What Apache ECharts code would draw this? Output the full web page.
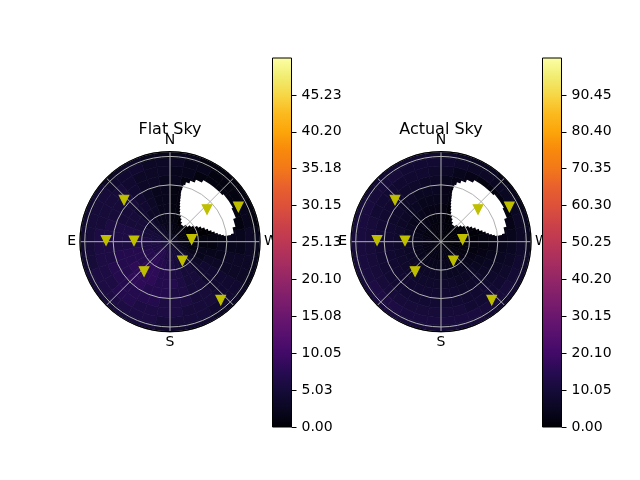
<!DOCTYPE html>
<html><head><meta charset="utf-8">
<script src="https://cdn.jsdelivr.net/npm/echarts@6/dist/echarts.min.js"></script>
<style>html,body{margin:0;padding:0;background:#fff}#c{width:640px;height:480px}</style>
</head><body><div id="c"></div>
<script>
// azimuth bins (start, degrees from N through E), step 10
const azBins = [0,10,20,30,40,50,60,70,80,90,100,110,120,130,140,150,160,170,180,190,200,210,220,230,240,250,260,270,280,290,300,310,320,330,340,350];
const azStep = 10;
// zenith ring edges
const rEdges = [0,10,20,30,40,50,60,70,80,88,95];
// Flat Sky values per ring (inner to outer)
const flatSkyRings = [
 [3,3,3,3,4,4,4,4,5,5, 5,5,5,5,5,5,5,5,5,4, 4,4,4,3,3,3,2,2,2,2, 2,2,2,2,2,3],
 [2,2,3,3,4,4,5,5,5,6, 6,6,6,7,7,7,6,6,6,5, 5,4,4,3,2,2,1,1,1,1, 1,1,1,1,1,2],
 [2,2,2,3,4,4,5,5,6,6, 6,7,7,7,8,7,7,6,6,5, 5,4,4,3,2,1,1,0,0,0, 0,0,0,0,1,1],
 [2,2,3,3,4,5,5,6,6,6, 7,7,7,8,8,8,7,7,6,6, 5,5,4,3,2,2,1,1,0,0, 0,0,0,0,1,1],
 [2,2,3,4,4,5,5,6,6,6, 7,7,8,8,8,8,7,7,7,6, 5,5,4,4,3,2,1,1,0,0, 0,0,0,0,1,1],
 [2,2,3,4,5,5,5,6,6,6, 7,7,7,8,8,7,7,7,6,6, 5,5,4,4,3,2,2,1,0,0, 0,0,0,0,1,1],
 [2,3,3,4,5,5,5,6,6,6, 6,7,7,7,7,7,7,6,6,6, 5,5,4,4,3,3,2,2,1,0, 0,0,0,0,1,2],
 [3,3,3,4,5,5,5,5,6,6, 6,6,6,7,7,6,6,6,6,5, 5,5,4,4,3,3,2,2,1,1, 1,1,1,1,2,2],
 [3,3,4,4,4,5,5,5,5,5, 5,6,6,6,6,6,6,5,5,5, 5,4,4,4,3,3,3,3,2,2, 1,1,1,2,2,3],
 [2,2,3,3,3,4,4,4,4,4, 4,5,5,5,5,5,5,4,4,4, 4,3,3,3,2,2,2,2,1,1, 1,1,1,1,2,2]
];
// Actual Sky values per ring (inner to outer)
const actualSkyRings = [
 [1,1,1,1,1,1,2,2,2,2, 2,2,2,2,2,2,2,2,2,2, 2,1,1,1,1,1,1,1,1,1, 1,1,1,1,1,1],
 [2,2,2,2,2,2,2,3,3,3, 3,3,3,3,3,3,3,3,3,3, 3,2,2,2,2,1,1,1,1,1, 1,1,1,1,1,2],
 [2,2,2,3,3,3,3,4,4,4, 4,4,4,4,4,4,4,4,4,4, 4,3,3,3,2,2,1,1,1,1, 1,1,1,1,1,2],
 [3,3,3,4,4,4,5,5,5,6, 6,6,6,6,6,6,6,6,6,5, 5,5,4,4,3,2,2,1,1,1, 1,1,1,1,1,2],
 [4,4,4,5,5,6,6,7,7,7, 7,7,7,7,7,7,7,7,7,7, 6,6,6,5,4,3,2,2,1,1, 1,1,1,1,2,3],
 [5,5,5,6,6,7,7,8,8,8, 8,8,8,8,8,8,8,8,8,8, 7,7,7,6,5,4,3,2,1,1, 1,1,1,1,2,3],
 [6,6,7,7,8,8,8,9,9,9, 9,9,9,9,9,9,9,9,9,9, 8,8,8,7,6,5,4,3,2,1, 1,1,1,2,3,4],
 [7,8,8,8,9,9,9,10,10,10, 10,10,10,10,10,10,10,10,10,10, 9,9,9,8,7,6,5,4,3,2, 2,2,2,3,4,6],
 [9,9,9,10,10,10,11,11,11,11, 11,11,12,12,12,11,11,11,11,11, 11,10,10,10,9,8,7,6,6,5, 5,5,6,6,7,8],
 [8,8,8,9,9,9,10,10,10,10, 10,10,11,11,11,10,10,10,10,10, 10,9,9,9,8,7,6,5,5,4, 4,4,5,5,6,7]
];
// region with no data (NaN), per zenith band: zenith from/to, azimuth from/to
const nanZenithFrom = [22.5,25,28,31,34,37,40,43,46,49,52,55,58,61,64,67,70,73];
const nanZenithTo   = [25,28,31,34,37,40,43,46,49,52,55,58,61,64,67,70,73,74.5];
const nanAzFrom = [320,312,306.5,302,298,294,290,286.5,284,281.5,279.5,278.2,277,277,278,283.5,290.5,299];
const nanAzTo   = [326,331,335,339,341,342.5,343.8,344.8,345.3,345.8,346.4,346.1,345.8,344.2,340.9,336.6,331,311];
// star markers (zenith, azimuth)
const starZenith = [65.5, 67.5, 38, 23, 24, 41.7, 81.6, 81, 51.8];
const starAzimuth = [47.8, 88.8, 88.5, 276, 213, 139, 221, 297, 311];
// colorbars
const flatMax = 50.25;
const actualMax = 100.5;
const flatTicks = [0, 5.03, 10.05, 15.08, 20.10, 25.13, 30.15, 35.18, 40.20, 45.23];
const actualTicks = [0, 10.05, 20.10, 30.15, 40.20, 50.25, 60.30, 70.35, 80.40, 90.45];
const dirValues = [0, 90, 180, 270];
const dirLabels = ['N', 'E', 'S', 'W'];
const titles = ['Flat Sky', 'Actual Sky'];

const inferno = ['#000004','#0a0722','#160b39','#280b53','#420a68','#57106e','#6a176e','#7f1e6c','#932667','#a82e5f','#bc3754','#cc4248','#dd513a','#e8602d','#f37819','#f8890c','#fca50a','#fbba1f','#f6d746','#f1ed71','#fcffa4'];

function cells(rings) {
  const out = [];
  rings.forEach((ring, i) => ring.forEach((v, j) => {
    out.push([rEdges[i], rEdges[i+1], azBins[j], azBins[j] + azStep, v]);
  }));
  return out;
}
const nanCells = nanZenithFrom.map((z, i) => [z, nanZenithTo[i], nanAzFrom[i], nanAzTo[i], 0]);

function sectorFor(params, api) {
  const cs = params.coordSys; const cx = cs.cx, cy = cs.cy;
  const r0v = api.value(0), r1v = api.value(1), a0v = api.value(2), a1v = api.value(3);
  const pa0 = api.coord([r1v, a0v]);
  const pa1 = api.coord([r1v, a1v]);
  const pin = api.coord([r0v, a0v]);
  const R = Math.hypot(pa0[0]-cx, pa0[1]-cy);
  const R0 = Math.hypot(pin[0]-cx, pin[1]-cy);
  let s = Math.atan2(pa1[1]-cy, pa1[0]-cx);
  let e = Math.atan2(pa0[1]-cy, pa0[0]-cx);
  while (e <= s) e += 2*Math.PI;
  return {cx:cx, cy:cy, r0:R0, r:R, startAngle:s, endAngle:e, clockwise:true};
}
function renderCell(params, api) {
  const col = api.visual('color');
  return {type:'sector', shape: sectorFor(params, api), style:{fill:col, stroke:col, lineWidth:0.7}};
}
function renderNan(params, api) {
  return {type:'sector', shape: sectorFor(params, api), style:{fill:'#ffffff', stroke:'#ffffff', lineWidth:1.6}};
}

const centers = [[170, 241.7], [441, 241.7]];
const cbLefts = [272.5, 542.5];
const maxes = [flatMax, actualMax];
const tickSets = [flatTicks, actualTicks];

const option = {
  animation: false,
  backgroundColor: '#fff',
  textStyle: {fontFamily: 'DejaVu Sans'},
  polar: centers.map(c => ({center: c, radius: 90})),
  angleAxis: [0,1].map(i => ({
    polarIndex: i, type: 'value', min: 0, max: 360, interval: 45, startAngle: 90, clockwise: false, z: 4,
    axisLine: {show: true, lineStyle: {color: '#000', width: 1.2}},
    axisTick: {show: false},
    axisLabel: {margin: 4, fontSize: 14, color: '#000', fontFamily: 'DejaVu Sans',
      formatter: v => { const k = dirValues.indexOf(v); return k >= 0 ? dirLabels[k] : ''; }},
    splitLine: {show: true, lineStyle: {color: '#b0b0b0', width: 1}}
  })),
  radiusAxis: [0,1].map(i => ({
    polarIndex: i, type: 'value', min: 0, max: 95, interval: 30, z: 3,
    axisLine: {show: false}, axisTick: {show: false}, axisLabel: {show: false},
    splitLine: {show: true, lineStyle: {color: '#b0b0b0', width: 1}}
  })),
  grid: cbLefts.map(l => ({left: l, top: 58, width: 19, height: 369, show: true, borderColor: '#000', borderWidth: 1, backgroundColor: 'transparent', z: 7})),
  xAxis: [0,1].map(i => ({gridIndex: i, type: 'category', data: ['c'], show: false})),
  yAxis: [0,1].map(i => ({
    gridIndex: i, type: 'value', min: 0, max: maxes[i], position: 'right',
    axisLine: {show: false},
    axisTick: {show: true, length: 5, lineStyle: {color: '#000', width: 1}, customValues: tickSets[i]},
    axisLabel: {customValues: tickSets[i], formatter: v => v.toFixed(2), margin: 10, fontSize: 14, color: '#000', fontFamily: 'DejaVu Sans'},
    splitLine: {show: false}
  })),
  visualMap: [
    {type: 'continuous', show: false, min: 0, max: flatMax, dimension: 4, seriesIndex: 0, inRange: {color: inferno}},
    {type: 'continuous', show: false, min: 0, max: actualMax, dimension: 4, seriesIndex: 1, inRange: {color: inferno}}
  ],
  series: [
    {type: 'custom', coordinateSystem: 'polar', polarIndex: 0, data: cells(flatSkyRings), renderItem: renderCell, z: 1, silent: true, encode: {radius: 1, angle: 3}},
    {type: 'custom', coordinateSystem: 'polar', polarIndex: 1, data: cells(actualSkyRings), renderItem: renderCell, z: 1, silent: true, encode: {radius: 1, angle: 3}},
    ...[0,1].map(i => ({type: 'custom', coordinateSystem: 'polar', polarIndex: i, data: nanCells, renderItem: renderNan, z: 2, silent: true, encode: {radius: 1, angle: 3}})),
    ...[0,1].map(i => ({type: 'scatter', coordinateSystem: 'polar', polarIndex: i, symbol: 'triangle', symbolRotate: 180, symbolSize: [9.5, 9.5],
      itemStyle: {color: '#bfbf00', opacity: 1, borderColor: '#bfbf00', borderWidth: 1.2}, z: 5, silent: true,
      data: starZenith.map((r, k) => [r, starAzimuth[k]])})),
    ...[0,1].map(i => ({type: 'bar', xAxisIndex: i, yAxisIndex: i, data: [maxes[i]], barWidth: '100%', silent: true, z: 6,
      itemStyle: {color: new echarts.graphic.LinearGradient(0, 1, 0, 0, inferno.map((c, k) => ({offset: k/(inferno.length-1), color: c})))}}))
  ],
  graphic: titles.map((t, i) => ({type: 'text', x: centers[i][0], y: 130, z: 10,
    style: {text: t, fontSize: 16, fontFamily: 'DejaVu Sans', fill: '#000', textAlign: 'center', textVerticalAlign: 'middle', align: 'center', verticalAlign: 'middle'}}))
};
const chart = echarts.init(document.getElementById('c'), null, {renderer: 'canvas'});
chart.setOption(option);
</script></body></html>
